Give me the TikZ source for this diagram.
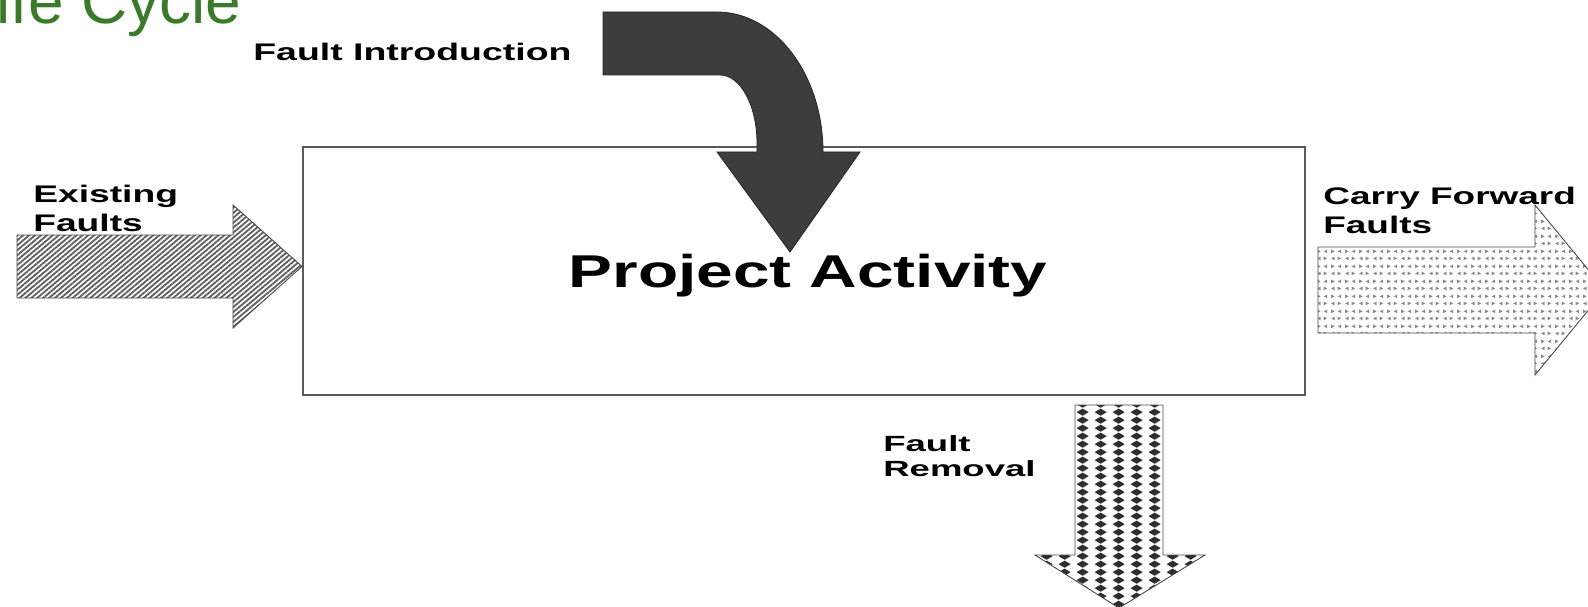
\documentclass[tikz,border=0pt]{standalone}
\usepackage{fontspec}
\setmainfont{Liberation Sans}
\usetikzlibrary{patterns.meta}

\definecolor{titlegreen}{HTML}{3B7A2A}
\definecolor{boxline}{HTML}{5A5A5A}
\definecolor{bendfill}{HTML}{3D3D3D}
\definecolor{arrowline}{HTML}{4A4A4A}
\definecolor{stripe}{HTML}{626262}
\definecolor{tridot}{HTML}{8C8C8C}
\definecolor{diamond}{HTML}{2E2E2E}

% small left/right pointing triangles in staggered rows
\pgfdeclarepattern{
  name=tridots, type=uncolored,
  bottom left={\pgfpoint{0pt}{0pt}},
  top right={\pgfpoint{14pt}{15pt}},
  tile size={\pgfpoint{14pt}{15pt}},
  code={
    \pgfpathmoveto{\pgfpoint{1.2pt}{9.3pt}}\pgfpathlineto{\pgfpoint{5pt}{11.3pt}}\pgfpathlineto{\pgfpoint{1.2pt}{13.3pt}}\pgfpathclose
    \pgfpathmoveto{\pgfpoint{12pt}{9.3pt}}\pgfpathlineto{\pgfpoint{8.2pt}{11.3pt}}\pgfpathlineto{\pgfpoint{12pt}{13.3pt}}\pgfpathclose
    \pgfpathmoveto{\pgfpoint{5pt}{1.8pt}}\pgfpathlineto{\pgfpoint{1.2pt}{3.8pt}}\pgfpathlineto{\pgfpoint{5pt}{5.8pt}}\pgfpathclose
    \pgfpathmoveto{\pgfpoint{8.2pt}{1.8pt}}\pgfpathlineto{\pgfpoint{12pt}{3.8pt}}\pgfpathlineto{\pgfpoint{8.2pt}{5.8pt}}\pgfpathclose
    \pgfusepath{fill}
  }
}

% dark diamonds in aligned rows and columns
\pgfdeclarepattern{
  name=diamonds, type=uncolored,
  bottom left={\pgfpoint{0pt}{0pt}},
  top right={\pgfpoint{17.6pt}{8.3pt}},
  tile size={\pgfpoint{17.6pt}{8.3pt}},
  code={
    \pgfpathmoveto{\pgfpoint{2.6pt}{4.15pt}}\pgfpathlineto{\pgfpoint{8.8pt}{0.3pt}}\pgfpathlineto{\pgfpoint{15pt}{4.15pt}}\pgfpathlineto{\pgfpoint{8.8pt}{8pt}}\pgfpathclose
    \pgfusepath{fill}
  }
}

\begin{document}
\begin{tikzpicture}[x=1pt,y=-1pt,
  lbl/.style={font=\bfseries\fontsize{24}{29}\selectfont, align=left,
              inner sep=0pt, anchor=north west, transform shape},
  blockarrow/.style={draw=arrowline, line width=0.9pt, line join=miter},
]
\useasboundingbox (0,0) rectangle (1588,607);
\clip (0,0) rectangle (1588,607);
\fill[white] (0,0) rectangle (1588,607);

% slide title, cut by the top edge
\node[anchor=base west, inner sep=0pt, text=titlegreen,
      font=\fontsize{64}{72}\selectfont] (title) at (-4,24) {ife Cycle};

% central activity box
\node[draw=boxline, line width=2pt, minimum width=1002pt, minimum height=248pt,
      inner sep=0pt, text height=33pt, text depth=0pt,
      font=\bfseries\fontsize{46}{52}\selectfont] (act) at (804,271)
      {\hspace*{8pt}\scalebox{1.43}[1]{Project Activity}};

% incoming faults (hatched)
\coordinate (exTail) at (17,266.5);
\coordinate (exTip) at (act.west |- exTail);
\path[blockarrow, pattern={Lines[angle=40,distance=3.8pt,line width=1.9pt]}, pattern color=stripe]
  (exTail) ++(0,-31.5) -- (233,235) -- (233,205) -- (exTip) -- (233,328) -- (233,298) -- (17,298) -- cycle;
\node[lbl, xscale=1.55] (exLbl) at (33,185) {Existing\\Faults};

% faults carried forward (light dotted)
\coordinate (cfTail) at (1318,290);
\path[blockarrow, pattern=tridots, pattern color=tridot]
  (cfTail) ++(0,-43) -- (1535,247) -- (1535,205) -- (1605,290) -- (1535,375) -- (1535,333) -- (1318,333) -- cycle;
\node[lbl, xscale=1.54] (cfLbl) at (1323,187) {Carry Forward\\Faults};

% faults removed (diamond chequer)
\coordinate (frTail) at (1119,405);
\path[blockarrow, pattern=diamonds, pattern color=diamond]
  (1075,405) -- (1163,405) -- (1163,555) -- (1205,555) -- (1119,608) -- (1035,555) -- (1075,555) -- cycle;
\node[lbl, xscale=1.66, font=\bfseries\fontsize{22}{25}\selectfont] (frLbl) at (883,435) {Fault\\Removal};

% faults introduced (solid bent arrow)
\coordinate (fiTip) at (790,252);
\path[fill=bendfill, draw=black!85, line width=0.8pt, line join=miter]
  (603,12) -- (717,12) .. controls (775.5,12) and (823,74.7) .. (823,152)
  -- (860,152) -- (fiTip) -- (717,152) -- (757,152) -- (757,143)
  .. controls (757,105.5) and (740.4,75) .. (720,75) -- (603,75) -- cycle;
\node[lbl, xscale=1.56] (fiLbl) at (253,43) {Fault Introduction};
\end{tikzpicture}
\end{document}
